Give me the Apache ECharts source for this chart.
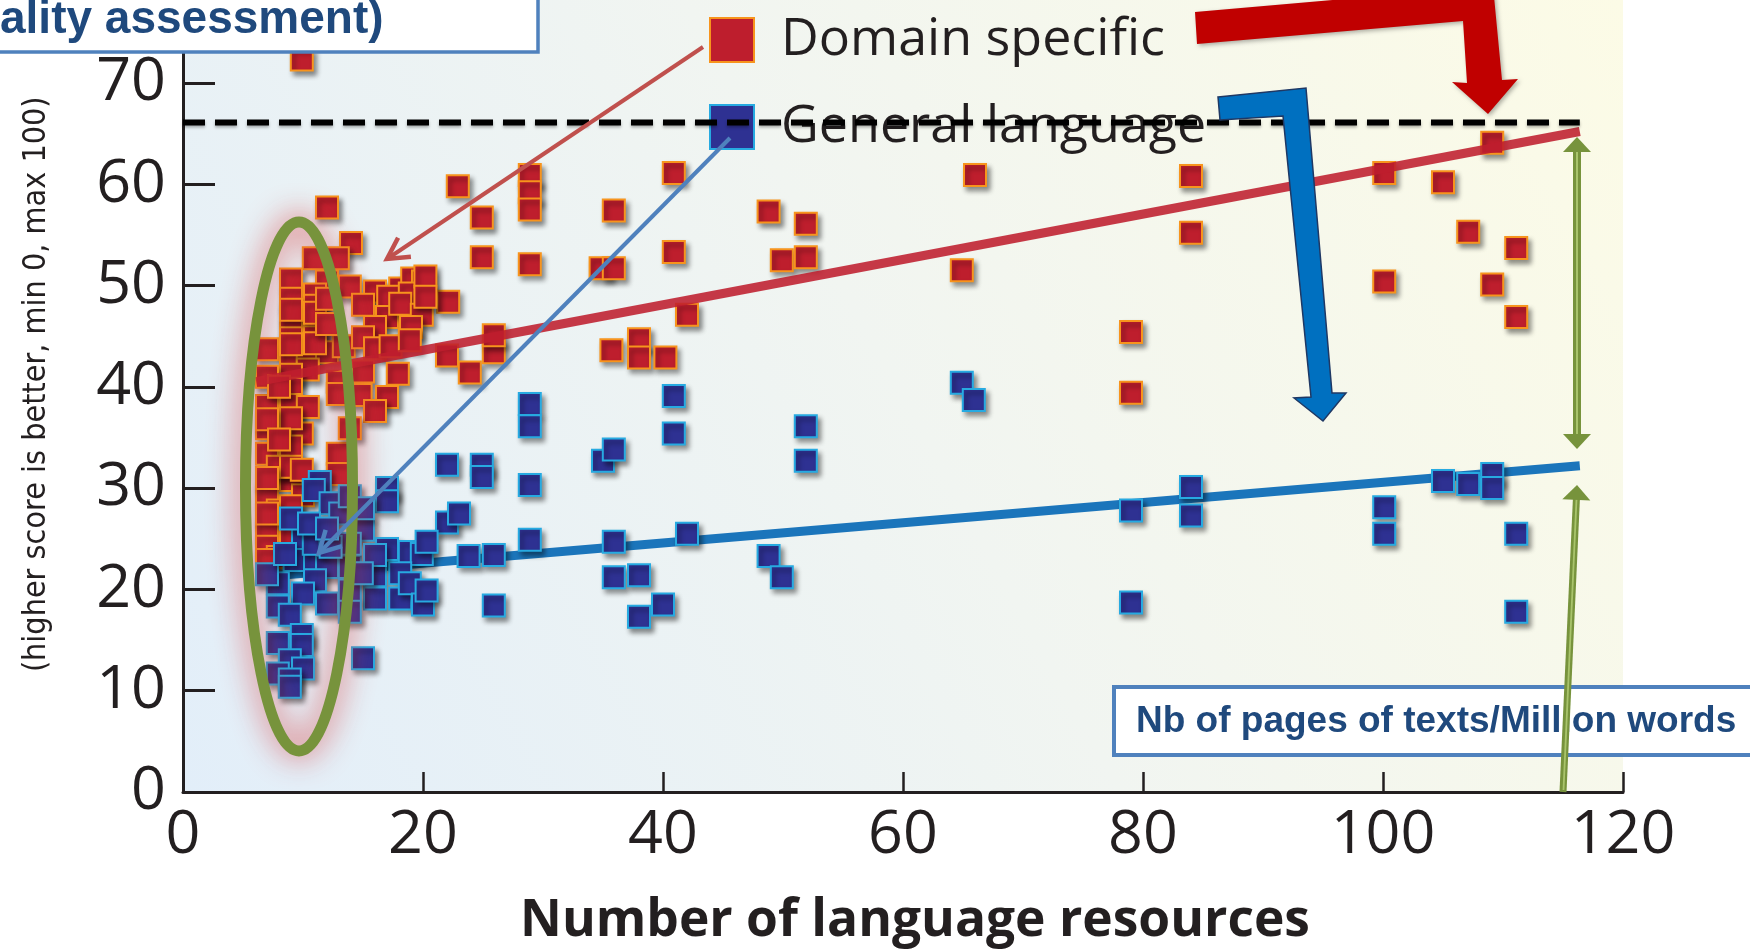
<!DOCTYPE html>
<html><head><meta charset="utf-8">
<script src="https://cdn.jsdelivr.net/npm/echarts@6/dist/echarts.min.js"></script>
<style>html,body{margin:0;padding:0;background:#fff;}#c{width:1750px;height:950px;}</style>
</head><body><div id="c"></div>
<script>
// ---------------- data ----------------
const xTicks = [0, 20, 40, 60, 80, 100, 120];
const yTicks = [0, 10, 20, 30, 40, 50, 60, 70];
const seriesNames = ['Domain specific', 'General language'];
const xTitle = 'Number of language resources';
const yTitle = '(higher score is better, min 0, max 100)';

const domainSpecific = [
  [9.9,72.3],[22.9,59.8],[24.9,56.7],[24.9,52.8],[28.9,60.9],[28.9,59.2],[28.9,57.5],[28.9,52.1],
  [35.9,57.4],[34.8,51.7],[35.9,51.7],[40.9,61.1],[40.9,53.3],[42,47.1],[35.7,43.6],[38,44.7],
  [38,42.9],[40.2,42.9],[48.8,57.3],[49.9,52.5],[51.9,56.1],[51.9,52.8],[64.9,51.5],[66,60.9],
  [79,45.4],[79,39.4],[84,60.8],[84,55.2],[100.1,61.1],[100.1,50.4],[105,60.2],[107.1,55.3],
  [109.1,64.1],[109.1,50.1],[111.1,53.7],[111.1,46.9],
  [12,57.7],[14,54.2],[10.9,52.7],[12.9,52.7],[9,50.6],[12,50.4],[13.9,49.9],[16,49.4],[18.1,49.7],
  [19.1,50.7],[20,50.4],[15,48.1],[17.1,48.9],[18.9,49.2],[22.1,48.4],[9,48.7],[11,49.1],[11,48],
  [9,46.9],[11,46.9],[17,46.9],[18.1,48.2],[19.9,47.1],[19,45.9],[16,45.9],[9,45.6],[9,44.8],
  [11,45.9],[11,44.9],[7,43.7],[9,43],[10.4,43.3],[12,43.4],[13.4,44],[15,44.9],[16,43.8],
  [17.3,44],[18.9,44.6],[22,43.1],[23.9,41.4],[25.9,43.4],[25.9,45.1],[10.4,41.7],[12.9,40.5],
  [15,41.5],[17.9,41.3],[9,41.2],[9,39.8],[7,38.1],[9,38.2],[10.4,38],[12.9,39.3],[14.8,39.2],
  [17,39],[16,37.6],[7,35.9],[9,35.9],[9.9,35.4],[7,33.4],[9,34.1],[12.9,33.4],[13.9,35.9],
  [7,29.5],[9,30.8],[10,29.3],[7.9,27.8],[7,26],[7,24.2],[7.9,23.2],[9,26.9],[7.9,32.1],
  [9,32.1],[12.9,31.4],[9.9,31.8],
  [9,47.6],[9,44.2],[9,36.9],[9,28.2],[9,25.6],[11,47.3],[11,44.3],[7,41],[7,36.8],[7,31],
  [7,27.5],[7,22.9],[8,40],[8,34.8],[12,48.7],[12,46.2],[20.2,50.9],[20.2,48.9]
];

const generalLanguage = [
  [15,13.2],[22,32.3],[24.9,32.3],[24.9,31.1],[22,26.6],[23,27.5],[23.8,23.3],[25.9,23.4],
  [25.9,18.4],[28.9,38.3],[28.9,36.1],[28.9,30.3],[28.9,24.9],[35,32.7],[35.9,33.8],[35.9,24.7],
  [35.9,21.2],[38,21.4],[38,17.3],[40,18.5],[40.9,39.1],[40.9,35.4],[42,25.5],[48.8,23.3],
  [49.9,21.2],[51.9,36.1],[51.9,32.7],[64.9,40.4],[65.9,38.7],[79,27.8],[79,18.7],[84,30.1],
  [84,27.3],[100.1,28.1],[100.1,25.5],[105,30.7],[107.1,30.4],[109.1,31.4],[109.1,30],
  [111.1,25.5],[111.1,17.8],
  [11.4,30.6],[10.9,29.8],[17,30],[17,28.7],[12.3,28.5],[13.1,27.5],[15,25.9],[17,24],[18.9,23.7],
  [19.9,23.5],[10,24.9],[9.3,22.9],[11,22.9],[12,22.2],[11,20.9],[7.9,20.6],[10,19.6],[12,18.6],
  [7.9,18.3],[8.9,17.5],[13.9,22.2],[16,21.4],[16,19.1],[18.1,21.6],[18.1,19.1],[18.9,20.6],
  [20,18.5],[13.9,19.9],[13.9,17.8],[7.9,14.7],[9.9,15.5],[9.9,14.5],[8.9,13],[7.9,11.7],
  [10,12.2],[8.9,11.1],[8.9,10.4],[13.9,24.5],[10.9,24.5],[12.3,24.2],[16,23.4],[14.9,21.6],
  [13.9,29.2],[20.3,24.7],[20.3,19.9],[9,27],[10.5,26.5],[12,26],[7,21.5],[8.5,23.5],[15,28]
];

const domainTrend = [[6.1, 40.5], [116.4, 65.2]];
const generalTrend = [[6.1, 21.2], [116.4, 32.2]];
const referenceLevel = [[0, 66.1], [116.4, 66.1]];

// ---------------- helpers ----------------
function chevron(tip, from, len, ang) {
  const a = Math.atan2(from[1] - tip[1], from[0] - tip[0]);
  return [[tip[0] + len * Math.cos(a + ang), tip[1] + len * Math.sin(a + ang)], tip,
          [tip[0] + len * Math.cos(a - ang), tip[1] + len * Math.sin(a - ang)]];
}
function head(tip, from, len, half) {
  const a = Math.atan2(from[1] - tip[1], from[0] - tip[0]);
  const bx = tip[0] + len * Math.cos(a), by = tip[1] + len * Math.sin(a);
  const px = -Math.sin(a) * half, py = Math.cos(a) * half;
  return [tip, [bx + px, by + py], [bx - px, by - py]];
}
const GREEN = '#77933c';
const shadowSq = {opacity: 1, shadowBlur: 5, shadowOffsetX: 3, shadowOffsetY: 4, shadowColor: 'rgba(0,0,0,0.45)'};

const chart = echarts.init(document.getElementById('c'));

const graphics = [
  // background
  {type: 'rect', z: -10, silent: true, shape: {x: 183, y: 0, width: 1440, height: 792},
   style: {fill: new echarts.graphic.LinearGradient(0, 1, 1, 0, [
     {offset: 0, color: '#e2eef9'}, {offset: 0.5, color: '#f1f5f1'}, {offset: 1, color: '#fcfbe6'}])}},
  // ellipse with glow
  {type: 'ellipse', z: 12, silent: true, shape: {cx: 299, cy: 486.5, rx: 53.5, ry: 264.5},
   style: {fill: null, stroke: GREEN, lineWidth: 11, shadowBlur: 30, shadowColor: 'rgba(215,60,60,0.9)'}},
  // thin red arrow
  {type: 'line', z: 13, silent: true, shape: {x1: 703, y1: 47, x2: 387, y2: 259},
   style: {stroke: '#c0504d', lineWidth: 4}},
  {type: 'polyline', z: 13, silent: true, shape: {points: chevron([387, 259], [703, 47], 24, 0.5)},
   style: {stroke: '#c0504d', lineWidth: 4.5, fill: null}},
  // thin blue arrow
  {type: 'line', z: 13, silent: true, shape: {x1: 730, y1: 138, x2: 319, y2: 553},
   style: {stroke: '#4f81bd', lineWidth: 4}},
  {type: 'polyline', z: 13, silent: true, shape: {points: chevron([319, 553], [730, 138], 24, 0.5)},
   style: {stroke: '#4f81bd', lineWidth: 4.5, fill: null}},
  // big red bent arrow
  {type: 'polygon', z: 14, silent: true, shape: {points: [[1195, 12], [1197, 44], [1463, 21], [1467, 83],
     [1452, 82], [1488, 114], [1518, 79], [1502, 80], [1493, -14]]},
   style: {fill: '#c00000', shadowBlur: 4, shadowOffsetX: 2, shadowOffsetY: 2, shadowColor: 'rgba(0,0,0,0.3)'}},
  // big blue bent arrow
  {type: 'polygon', z: 14, silent: true, shape: {points: [[1218, 97], [1306, 88], [1332, 393], [1346, 393],
     [1323, 421], [1294, 398], [1311, 397], [1283, 116], [1220, 120]]},
   style: {fill: '#0070c0', stroke: '#1f3864', lineWidth: 1.5}},
  // green double arrow
  {type: 'line', z: 14, silent: true, shape: {x1: 1577, y1: 148, x2: 1577, y2: 438},
   style: {stroke: GREEN, lineWidth: 8}},
  {type: 'line', z: 14, silent: true, shape: {x1: 1577, y1: 150, x2: 1577, y2: 436},
   style: {stroke: '#a9c46c', lineWidth: 2}},
  {type: 'polygon', z: 14, silent: true, shape: {points: head([1577, 137], [1577, 449], 15, 14)},
   style: {fill: GREEN}},
  {type: 'polygon', z: 14, silent: true, shape: {points: head([1577, 449], [1577, 137], 15, 14)},
   style: {fill: GREEN}},
  // Nb of pages box
  {type: 'rect', z: 15, silent: true, shape: {x: 1114, y: 687, width: 700, height: 68},
   style: {fill: '#ffffff', stroke: '#4f81bd', lineWidth: 4}},
  {type: 'text', z: 16, silent: true, x: 1136, y: 722,
   style: {text: 'Nb of pages of texts/Million words', fill: '#1f497d', font: 'bold 37px "Liberation Sans", Arial, sans-serif',
     verticalAlign: 'middle', align: 'left'}},
  // green single arrow from bottom
  {type: 'line', z: 17, silent: true, shape: {x1: 1563, y1: 792, x2: 1576.5, y2: 497},
   style: {stroke: GREEN, lineWidth: 7}},
  {type: 'line', z: 17, silent: true, shape: {x1: 1563.5, y1: 790, x2: 1576.5, y2: 499},
   style: {stroke: '#a9c46c', lineWidth: 1.8}},
  {type: 'polygon', z: 17, silent: true, shape: {points: head([1577, 485], [1563, 792], 15, 14)},
   style: {fill: GREEN}},
  // title box
  {type: 'rect', z: 20, silent: true, shape: {x: -10, y: -10, width: 548, height: 62},
   style: {fill: '#ffffff', stroke: '#4f81bd', lineWidth: 3.5}},
  {type: 'text', z: 21, silent: true, x: 0, y: 20,
   style: {text: 'ality assessment)', fill: '#1f497d', font: 'bold 46px "Liberation Sans", Arial, sans-serif',
     verticalAlign: 'middle', align: 'left'}}
];

const option = {
  animation: false,
  backgroundColor: '#ffffff',
  grid: {left: 183, right: 127, top: 52.5, bottom: 158, containLabel: false, outerBoundsMode: 'none'},
  legend: {
    data: seriesNames, orient: 'vertical', left: 704, top: 9, itemWidth: 44, itemHeight: 44, itemGap: 35,
    selectedMode: false, icon: 'rect',
    textStyle: {fontFamily: 'Open Sans', fontSize: 52, color: '#231f20', padding: [0, 0, 0, 22], lineHeight: 44}
  },
  xAxis: {
    type: 'value', min: 0, max: 120, interval: 20,
    axisLine: {show: true, onZero: false, lineStyle: {color: '#231f20', width: 3}},
    axisTick: {show: true, inside: true, length: 20, customValues: xTicks, lineStyle: {color: '#231f20', width: 2.5}},
    axisLabel: {show: true, customValues: xTicks, color: '#231f20', fontFamily: 'Open Sans', fontSize: 61, margin: 13},
    splitLine: {show: false},
    name: xTitle, nameLocation: 'middle', nameGap: 103,
    nameTextStyle: {fontFamily: 'Open Sans', fontWeight: 'bold', fontSize: 51.5, color: '#231f20', padding: [0, 0, 0, 24]}
  },
  yAxis: {
    type: 'value', min: 0, max: 73, interval: 10,
    axisLine: {show: true, onZero: false, lineStyle: {color: '#231f20', width: 3}},
    axisTick: {show: true, inside: true, length: 32, customValues: yTicks, lineStyle: {color: '#231f20', width: 3}},
    axisLabel: {show: true, customValues: yTicks, color: '#231f20', fontFamily: 'Open Sans', fontSize: 61, margin: 17},
    splitLine: {show: false},
    name: yTitle, nameLocation: 'middle', nameRotate: 90, nameGap: 130,
    nameTextStyle: {fontFamily: '"Liberation Sans Narrow", "DejaVu Sans Condensed", "Open Sans", sans-serif', fontSize: 32,
      color: '#231f20', padding: [0, 0, 0, 76]}
  },
  series: [
    {name: 'General language trend', type: 'line', data: generalTrend, z: 1, showSymbol: false, silent: true,
     lineStyle: {color: '#1b75bb', width: 9}},
    {name: seriesNames[0], type: 'scatter', data: domainSpecific, z: 2, symbol: 'rect', symbolSize: 22,
     itemStyle: Object.assign({color: '#be1e2d', borderColor: '#f7941d', borderWidth: 2}, shadowSq)},
    {name: seriesNames[1], type: 'scatter', data: generalLanguage, z: 2, symbol: 'rect', symbolSize: 22,
     itemStyle: Object.assign({color: '#2e3192', borderColor: '#27aae1', borderWidth: 2}, shadowSq)},
    {name: 'Domain specific trend', type: 'line', data: domainTrend, z: 3, showSymbol: false, silent: true,
     lineStyle: {color: '#be1e2d', width: 9, opacity: 0.88}},
    {name: 'Reference level', type: 'line', data: referenceLevel, z: 5, showSymbol: false, silent: true,
     lineStyle: {color: '#000000', width: 6, type: [22, 10], shadowBlur: 3, shadowColor: 'rgba(0,0,0,0.3)', shadowOffsetY: 2}}
  ],
  graphic: {elements: graphics}
};
chart.setOption(option);
</script></body></html>
